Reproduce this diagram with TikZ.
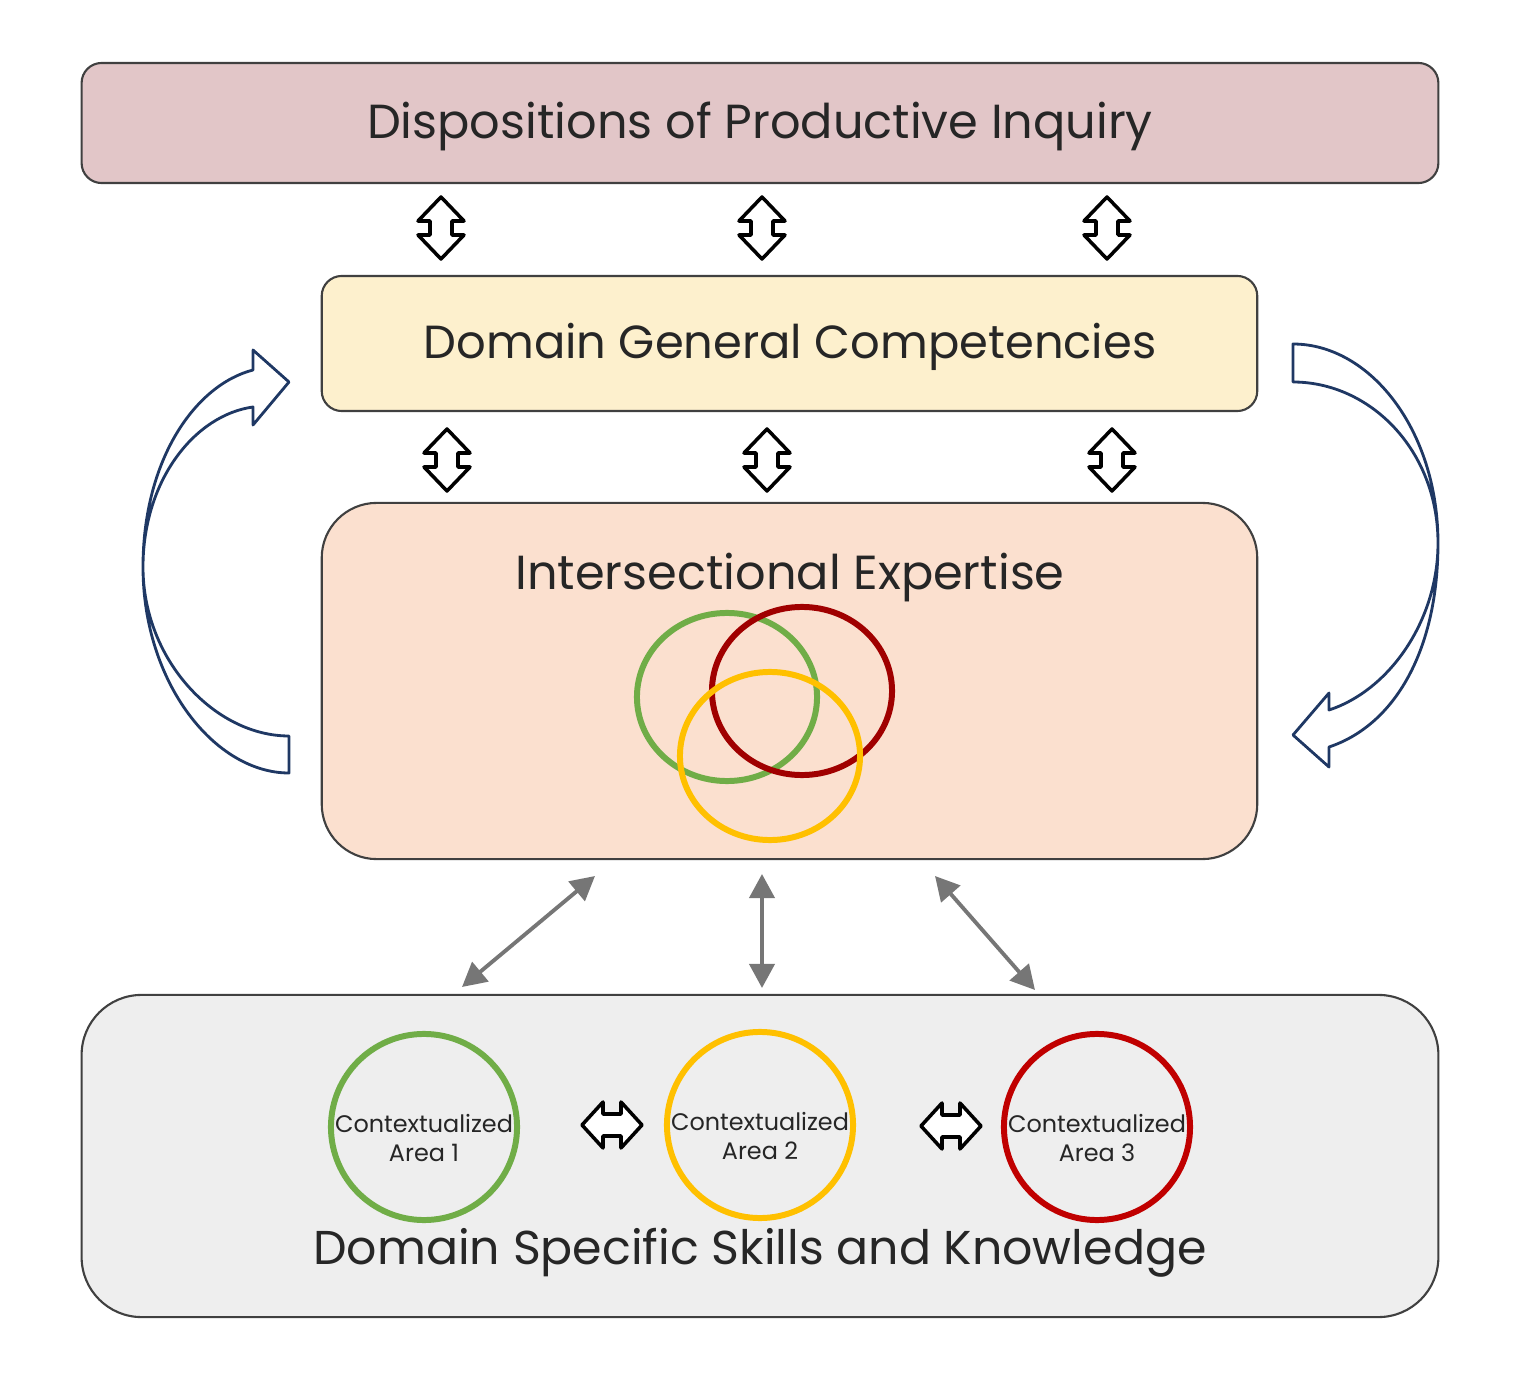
\documentclass[tikz,border=0pt]{standalone}
\usepackage{fontspec}
\setmainfont{Poppins}
\usetikzlibrary{arrows.meta,shapes.geometric}
\definecolor{boxline}{HTML}{404040}
\definecolor{dispfill}{HTML}{E2C6C8}
\definecolor{genfill}{HTML}{FDF0CD}
\definecolor{interfill}{HTML}{FBE0CF}
\definecolor{specfill}{HTML}{EEEEEE}
\definecolor{cgreen}{HTML}{70AD47}
\definecolor{cyellow}{HTML}{FFC000}
\definecolor{cred}{HTML}{C00000}
\definecolor{cdarkred}{HTML}{A00000}
\definecolor{navy}{HTML}{1F3864}
\definecolor{arrgray}{HTML}{767676}
\begin{document}
\begin{tikzpicture}[x=0.01cm, y=-0.01cm, line join=round,
  box/.style={draw=boxline, line width=0.6pt, inner sep=0pt},
  title/.style={text=black!85, inner sep=0pt},
  blockarr/.style={draw=black, line width=1pt, fill=white},
  bigarr/.style={draw=navy, line width=0.8pt, fill=white},
  grayarr/.style={draw=arrgray, line width=1.1pt,
    {Triangle[length=0.24cm,width=0.25cm]}-{Triangle[length=0.24cm,width=0.25cm]}},
  venn/.style={ellipse, draw, line width=1.7pt, minimum width=1.8cm, minimum height=1.68cm, inner sep=0pt},
  area/.style={circle, draw, line width=1.7pt, minimum size=1.86cm, inner sep=0pt},
  areatext/.style={align=center, inner sep=0pt, yshift=-0.11cm,
    font=\fontsize{6.8}{8}\selectfont, text=black!85}]
\useasboundingbox (0,0) rectangle (1514,1382);
%Mũi tên khối hai chiều
\def\udarr(#1,#2){\draw[blockarr] (#1,#2) ++(0,-31) -- ++(23,24) -- ++(-12,0) -- ++(0,14) -- ++(12,0)
  -- ++(-23,24) -- ++(-23,-24) -- ++(12,0) -- ++(0,-14) -- ++(-12,0) -- cycle;}
\def\lrarr(#1,#2){\draw[blockarr] (#1,#2) ++(-30,0) -- ++(21,-23) -- ++(0,12) -- ++(18,0) -- ++(0,-12)
  -- ++(21,23) -- ++(-21,23) -- ++(0,-12) -- ++(-18,0) -- ++(0,12) -- cycle;}
%Các khối
\node[box, fill=dispfill, rounded corners=0.2cm, minimum width=13.56cm, minimum height=1.2cm] (disp) at (760,123) {};
\node[title, font=\fontsize{13.6}{16}\selectfont] (disptext) at (760,126) {Dispositions of Productive Inquiry};
\node[box, fill=genfill, rounded corners=0.2cm, minimum width=9.35cm, minimum height=1.35cm] (gen) at (789.5,343.5) {};
\node[title, font=\fontsize{13.2}{16}\selectfont] (gentext) at (790,347) {Domain General Competencies};
\node[box, fill=interfill, rounded corners=0.55cm, minimum width=9.35cm, minimum height=3.56cm] (inter) at (789.5,681) {};
\node[title, font=\fontsize{13.6}{16}\selectfont] (intertext) at (790,578) {Intersectional Expertise};
\node[box, fill=specfill, rounded corners=0.6cm, minimum width=13.56cm, minimum height=3.22cm] (spec) at (760,1156) {};
\node[title, font=\fontsize{13.5}{16}\selectfont] (spectext) at (760,1253) {Domain Specific Skills and Knowledge};
%Giao của ba lĩnh vực
\node[venn, draw=cgreen] (vgreen) at (727,697) {};
\node[venn, draw=cdarkred] (vred) at (802,691) {};
\node[venn, draw=cyellow] (vyellow) at (770,756) {};
%Ba lĩnh vực
\node[area, draw=cgreen, label={[areatext]center:Contextualized\\Area 1}] (area1) at (424,1127) {};
\node[area, draw=cyellow, label={[areatext]center:Contextualized\\Area 2}] (area2) at (760,1125) {};
\node[area, draw=cred, label={[areatext]center:Contextualized\\Area 3}] (area3) at (1097,1127) {};
\lrarr(612,1125) \lrarr(951,1126)
%Mũi tên giữa các khối
\udarr(441,228) \udarr(762,228) \udarr(1107,228)
\udarr(447,460) \udarr(767,460) \udarr(1112,460)
\coordinate (g1a) at (462,987); \coordinate (g1b) at (595,876);
\coordinate (g2a) at (762,988); \coordinate (g2b) at (762,874);
\coordinate (g3a) at (1035,990); \coordinate (g3b) at (935,876);
\draw[grayarr] (g1a) -- (g1b);
\draw[grayarr] (g2a) -- (g2b);
\draw[grayarr] (g3a) -- (g3b);
%Mũi tên cong hai bên
\draw[bigarr] (289,773) -- (289,736) .. controls (215,736) and (143,660) .. (143,567)
  .. controls (143,480) and (195,415) .. (253,407) -- (253,425) -- (289,382) -- (253,350) -- (253,370)
  .. controls (195,385) and (143,460) .. (143,567) .. controls (143,683) and (215,773) .. (289,773) -- cycle;
\draw[bigarr] (1293,344) -- (1293,382) .. controls (1370,382) and (1438,450) .. (1438,543)
  .. controls (1438,620) and (1390,690) .. (1329,710) -- (1329,693) -- (1293,735) -- (1329,767) -- (1329,747)
  .. controls (1395,725) and (1438,650) .. (1438,543) .. controls (1438,430) and (1370,344) .. (1293,344) -- cycle;
\end{tikzpicture}
\end{document}
